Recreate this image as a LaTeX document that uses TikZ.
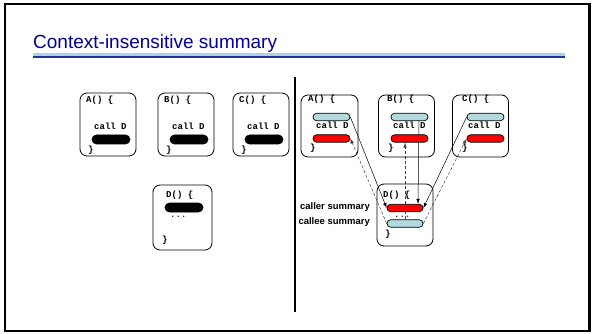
\documentclass[tikz,border=0pt]{standalone}
\usepackage{fontspec}
\setmainfont{Liberation Sans}
\setmonofont{Liberation Mono}
\usetikzlibrary{arrows.meta,backgrounds}
\definecolor{titleblue}{RGB}{0,0,153}
\definecolor{rulelight}{RGB}{170,212,226}
\definecolor{ruledark}{RGB}{40,48,150}
\definecolor{summblue}{RGB}{178,218,220}
\definecolor{summred}{RGB}{255,0,0}
\tikzset{
  fnbox/.style={draw, line width=0.8pt, rounded corners=7pt,
    minimum width=56pt, minimum height=63pt, inner sep=0pt},
  code/.style={font=\fontsize{9}{10}\selectfont\ttfamily\bfseries,
    anchor=base west, inner sep=0pt},
  pill/.style={draw, line width=0.7pt, rounded corners=3.7pt,
    minimum width=37pt, minimum height=7.5pt, inner sep=0pt},
  blackpill/.style={pill, fill=black, minimum width=38pt,
    minimum height=9pt, rounded corners=4.5pt},
  bluepill/.style={pill, fill=summblue},
  redpill/.style={pill, fill=summred},
  callarr/.style={-{Latex[length=5pt,width=3.5pt]}, line width=0.5pt},
  backarr/.style={callarr, densely dashed, draw=black!75},
  sumlabel/.style={font=\fontsize{9.5}{11}\selectfont\bfseries,
    anchor=base east, inner sep=0pt}
}
\begin{document}
\begin{tikzpicture}[x=1pt, y=-1pt]
  \useasboundingbox (0,0) rectangle (592,334);
  % Slide frame and title
  \draw[line width=2.5pt] (5,4) rectangle (589.5,331);
  \node[font=\fontsize{19}{22}\selectfont, text=titleblue,
    anchor=base west, inner sep=0pt] (title) at (33,49)
    {Context-insensitive summary};
  \fill[rulelight] (33,53.5) rectangle (565,56); % title rule
  \fill[ruledark] (33,56) rectangle (565,58.3);
  \draw[line width=1.2pt] (295,77) -- (295,312); % divider
  % Left: callers
  \node[fnbox] (lA) at (108,124.5) {};
  \node[code] (lAhd) at (86,103) {A() \{};
  \node[code] (lAcall) at (94,130) {call D};
  \node[blackpill] (lApill) at (111,139.5) {};
  \node[code] (lAend) at (88,153) {\}};
  \node[fnbox] (lB) at (186,124.5) {};
  \node[code] (lBhd) at (164,103) {B() \{};
  \node[code] (lBcall) at (172,130) {call D};
  \node[blackpill] (lBpill) at (189,139.5) {};
  \node[code] (lBend) at (166,153) {\}};
  \node[fnbox] (lC) at (261,124.5) {};
  \node[code] (lChd) at (239,103) {C() \{};
  \node[code] (lCcall) at (247,130) {call D};
  \node[blackpill] (lCpill) at (264,139.5) {};
  \node[code] (lCend) at (241,153) {\}};
  % Left: callee
  \node[fnbox, minimum width=59pt, minimum height=65pt] (lD) at (182.5,217.5) {};
  \node[code] (lDhd) at (166,197) {D() \{};
  \node[blackpill] (lDpill) at (184,207.5) {};
  \node[code, font=\fontsize{9}{10}\selectfont\ttfamily] (lDdots) at (170,217) {...};
  \node[code] (lDend) at (162,242) {\}};
  % Right: callers
  \node[fnbox, minimum width=57pt, minimum height=62pt] (rA) at (329.5,126) {};
  \node[code] (rAhd) at (308,102) {A() \{};
  \node[bluepill] (rAlb) at (331.5,117) {};
  \node[code] (rAcall) at (316,129) {call D};
  \node[redpill] (rAred) at (331.5,138.5) {};
  \node[code] (rAend) at (310,151) {\}};
  \node[fnbox, minimum width=56pt, minimum height=62pt] (rB) at (406.5,126) {};
  \node[code] (rBhd) at (387,102) {B() \{};
  \node[bluepill] (rBlb) at (409.5,117) {};
  \node[code] (rBcall) at (393,129) {call D};
  \node[redpill] (rBred) at (409.5,138.5) {};
  \node[code] (rBend) at (388,151) {\}};
  \node[fnbox, minimum width=56pt, minimum height=62pt] (rC) at (480.5,126) {};
  \node[code] (rChd) at (462,102) {C() \{};
  \node[bluepill] (rClb) at (485.5,117) {};
  \node[code] (rCcall) at (468,129) {call D};
  \node[redpill] (rCred) at (485.5,138.5) {};
  \node[code] (rCend) at (462,151) {\}};
  % Right: callee with summaries
  \node[fnbox, minimum width=56pt, minimum height=62pt] (rD) at (405,215) {};
  \node[code] (rDhd) at (383,197) {D() \{};
  \node[redpill, minimum width=36pt] (rDred) at (405,208) {};
  \node[code, font=\fontsize{9}{10}\selectfont\ttfamily] (rDdots) at (394,217) {...};
  \node[bluepill, minimum width=36pt] (rDlb) at (405,223.5) {};
  \node[code] (rDend) at (385,236) {\}};
  \node[sumlabel] (callerlbl) at (370,210) {caller summary};
  \node[sumlabel] (calleelbl) at (370,225) {callee summary};
  % Arrows
  \begin{pgfonlayer}{background}
    \draw[callarr] (rAlb.east) -- (rDred.west);
    \draw[callarr] ([xshift=9.5pt]rBlb.south) -- ([xshift=13pt]rDred.north);
    \draw[callarr] (rClb.west) -- (rDred.east);
    \draw[backarr] (rDlb.west) -- (rAred.east);
    \draw[backarr] (rDlb.north) -- (rDlb.north |- rBred.south);
    \draw[backarr] (rDlb.east) -- (rCred.west);
  \end{pgfonlayer}
\end{tikzpicture}
\end{document}
